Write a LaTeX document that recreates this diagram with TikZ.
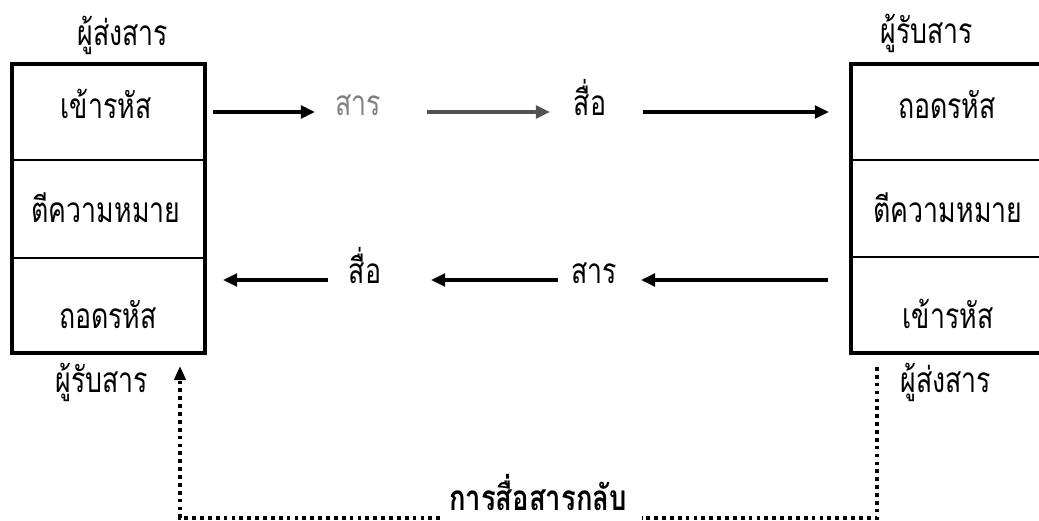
\documentclass[tikz,border=0pt]{standalone}
\usepackage{fontspec}
\newfontfamily\thaifont[Script=Thai, FakeStretch=0.76, BoldFeatures={FakeStretch=0.78}]{Loma}
\usetikzlibrary{arrows.meta}

\tikzset{
  lbl/.style={font=\thaifont\fontsize{25}{29}\selectfont, anchor=base, inner sep=0pt},
  flow/.style={line width=2.3pt, -{Triangle[length=10pt,width=9pt]}},
  back/.style={line width=2.6pt, dash pattern=on 2.6pt off 3pt},
}

\begin{document}
\begin{tikzpicture}[x=0.025cm,y=-0.025cm]
\useasboundingbox (0,0) rectangle (1039,520);

% left column: sender on top, receiver below
\draw[line width=2.4pt] (12,64) rectangle (205,353);
\draw[line width=2pt] (12,160) -- (205,160) (12,258) -- (205,258);
\node[lbl] (sendL) at (123,45) {ผู้ส่งสาร};
\node[lbl] (encL) at (106,118) {เข้ารหัส};
\node[lbl] (intL) at (106,222) {ตีความหมาย};
\node[lbl] (decL) at (108,328) {ถอดรหัส};
\node[lbl] (recvL) at (102,392) {ผู้รับสาร};

% right column
\draw[line width=2.4pt] (851,64) rectangle (1048,353);
\draw[line width=1pt] (851,160) -- (1048,160) (851,257) -- (1048,257);
\node[lbl] (recvR) at (927,43) {ผู้รับสาร};
\node[lbl] (decR) at (947,118) {ถอดรหัส};
\node[lbl] (intR) at (948,222) {ตีความหมาย};
\node[lbl] (encR) at (948,328) {เข้ารหัส};
\node[lbl] (sendR) at (946,392) {ผู้ส่งสาร};

% message / channel, left to right
\node[lbl, text=black!50] (msgT) at (358,115) {สาร};
\node[lbl] (chT) at (590,115) {สื่อ};
\coordinate (t0) at (213,112);
\coordinate (t1) at (315,112);
\coordinate (t2) at (427,112);
\coordinate (t3) at (550,112);
\coordinate (t4) at (643,112);
\coordinate (t5) at (829,112);
\draw[flow] (t0) -- (t1);
\draw[flow, black!68] (t2) -- (t3);
\draw[flow] (t4) -- (t5);

% and back, right to left
\node[lbl] (msgB) at (594,283) {สาร};
\node[lbl] (chB) at (365,283) {สื่อ};
\coordinate (b0) at (828,280);
\coordinate (b1) at (641,280);
\coordinate (b2) at (558,280);
\coordinate (b3) at (431,280);
\coordinate (b4) at (328,280);
\coordinate (b5) at (223,280);
\draw[flow] (b0) -- (b1);
\draw[flow] (b2) -- (b3);
\draw[flow] (b4) -- (b5);

% feedback loop
\node[lbl, font=\thaifont\bfseries\fontsize{25}{29}\selectfont] (fb) at (538,510) {การสื่อสารกลับ};
\coordinate (f0) at (877,367);
\coordinate (f1) at (877,518);
\coordinate (f2) at (642,518);
\coordinate (f3) at (440,518);
\coordinate (f4) at (180,518);
\coordinate (f5) at (180,366);
\draw[back] (f0) -- (f1) -- (f2);
\draw[back, -{Triangle[length=10pt,width=8pt]}] (f3) -- (f4) -- (f5);
\end{tikzpicture}
\end{document}
